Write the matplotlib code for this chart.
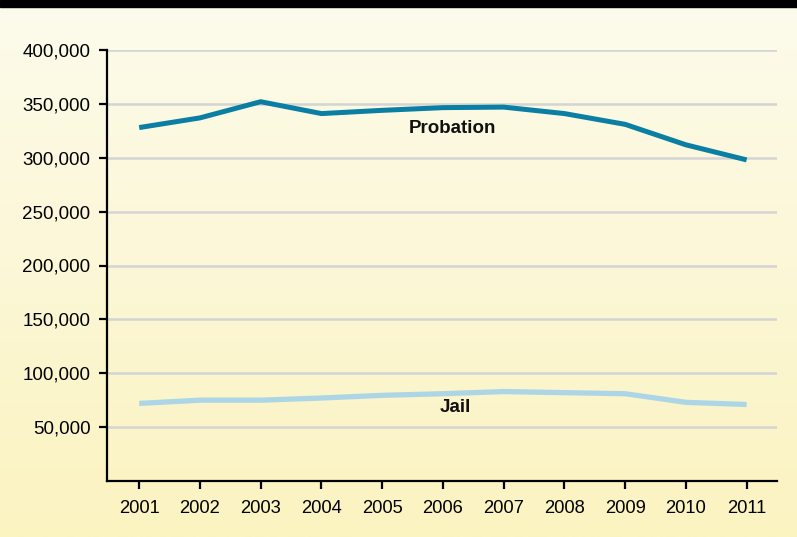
import numpy as np
import matplotlib.pyplot as plt
from matplotlib.patches import Rectangle

plt.rcParams['font.family'] = ['Liberation Sans', 'DejaVu Sans']

years = [2001, 2002, 2003, 2004, 2005, 2006, 2007, 2008, 2009, 2010, 2011]
probation = [328000, 337000, 352000, 341000, 344000, 346500, 347000, 341000, 331000, 312000, 298000]
jail = [72000, 75000, 75000, 77000, 79500, 81000, 83000, 82000, 81000, 73000, 71000]
yticks = [50000, 100000, 150000, 200000, 250000, 300000, 350000, 400000]

fig = plt.figure(figsize=(7.97, 5.37), dpi=100)

# background gradient (pale cream on top, warmer yellow below)
bg = fig.add_axes([0, 0, 1, 1], zorder=-10)
top = np.array([253, 251, 236]) / 255
bot = np.array([251, 243, 192]) / 255
t = np.linspace(0, 1, 256)[:, None]
grad = top * (1 - t) + bot * t
bg.imshow(grad[:, None, :], aspect='auto', extent=[0, 1, 0, 1])
bg.add_patch(Rectangle((0, 1 - 7 / 537), 1, 7 / 537, color='black'))
bg.set_xlim(0, 1)
bg.set_ylim(0, 1)
bg.axis('off')

ax = fig.add_axes([107 / 797, 1 - 481 / 537, 670 / 797, 431 / 537])
ax.patch.set_alpha(0)

ax.plot(years, probation, color='#0a7ea3', lw=3.6, solid_capstyle='butt', zorder=3)
ax.plot(years, jail, color='#acd6e6', lw=3.8, solid_capstyle='butt', zorder=3)

ax.text(2006.15, 327500, 'Probation', ha='center', va='center',
        fontsize=13.5, fontweight='bold', color='#111111')
ax.text(2006.2, 68000, 'Jail', ha='center', va='center',
        fontsize=13.5, fontweight='bold', color='#111111')

ax.set_xlim(2000.47, 2011.5)
ax.set_ylim(0, 400000)
ax.set_xticks(years)
ax.set_yticks(yticks)
ax.set_yticklabels([f'{v:,}' for v in yticks])
ax.grid(axis='y', color='#d4d4d4', lw=1.8, zorder=1)
ax.set_axisbelow(True)

for s in ['top', 'right']:
    ax.spines[s].set_visible(False)
for s in ['left', 'bottom']:
    ax.spines[s].set_linewidth(1.6)
    ax.spines[s].set_color('black')

ax.tick_params(axis='both', direction='out', length=6, width=1.6,
               colors='black', pad=6)
ax.tick_params(axis='y', labelsize=13.5)
ax.tick_params(axis='x', labelsize=13.2, pad=8)

fig.savefig('out.png', dpi=100)
